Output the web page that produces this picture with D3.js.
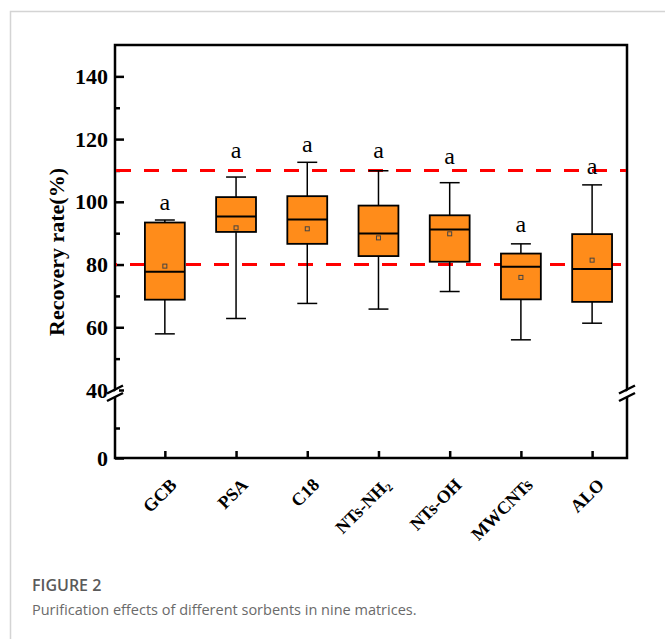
<!DOCTYPE html>
<html>
<head>
<meta charset="utf-8">
<script src="https://cdn.jsdelivr.net/npm/d3@7"></script>
<style>
  body { margin: 0; background: #fff; }
  svg { display: block; }
</style>
</head>
<body>
<div id="chart-holder"></div>
<script>
// box plot values (recovery rate, %)
var categories  = ["GCB", "PSA", "C18", "NTs-NH2", "NTs-OH", "MWCNTs", "ALO"];
var whiskerLow  = [57.9, 62.8, 67.6, 65.8, 71.4, 56.0, 61.3];
var q1          = [68.8, 90.4, 86.6, 82.7, 80.9, 68.9, 68.1];
var median      = [77.7, 95.3, 94.4, 89.9, 91.2, 79.3, 78.6];
var q3          = [93.4, 101.5, 101.8, 98.8, 95.7, 83.5, 89.7];
var whiskerHigh = [94.2, 107.9, 112.6, 109.9, 106.1, 86.6, 105.4];
var means       = [79.5, 91.7, 91.4, 88.5, 89.8, 75.9, 81.4];
var letters     = ["a", "a", "a", "a", "a", "a", "a"];
var letterAt    = [99.2, 115.9, 117.9, 115.9, 114.1, 92.3, 110.7];
var limits      = [80, 110];
var upperTicks  = [40, 60, 80, 100, 120, 140];
var upperMinor  = [50, 70, 90, 110, 130];
var lowerTicks  = [0];
var lowerMinor  = [20];

var W = 665, H = 639;
var serif = "'Times New Roman', 'Liberation Serif', serif";

var svg = d3.select("#chart-holder")
  .append("svg")
    .attr("width", W)
    .attr("height", H);

// page frame lines
svg.append("path")
  .attr("d", "M10.5," + H + "V11.5H" + W)
  .attr("fill", "none")
  .attr("stroke", "#d4d4d4")
  .attr("stroke-width", 1.5);

var plot = {left: 115, right: 627, top: 45, bottom: 458};

// x scale: categories sit at 1..7
var x = d3.scaleLinear()
  .domain([0.3, 7.49])
  .range([plot.left, plot.right]);
var unit = x(1) - x(0);

// broken y axis: two linear pieces
var yUp = d3.scaleLinear().domain([40, 150]).range([390, plot.top]);
var yLo = d3.scaleLinear().domain([0, 40]).range([plot.bottom, 398]);

var data = categories.map(function(c, i) {
  return {name: c, i: i + 1, lo: whiskerLow[i], q1: q1[i], med: median[i],
          q3: q3[i], hi: whiskerHigh[i], mean: means[i], letter: letters[i], ly: letterAt[i]};
});

// y axes (ticks point inward)
function styleAxis(g) {
  g.select(".domain").remove();
  g.selectAll("line").attr("stroke", "#000").attr("stroke-width", 2.5);
  g.selectAll("text")
    .attr("font-family", serif)
    .attr("font-weight", "bold")
    .attr("font-size", 22)
    .attr("fill", "#000");
}
svg.append("g")
  .attr("transform", "translate(" + plot.left + ",0)")
  .call(d3.axisLeft(yUp).tickValues(upperTicks).tickSize(-9).tickPadding(7))
  .call(styleAxis);
svg.append("g")
  .attr("transform", "translate(" + plot.left + ",0)")
  .call(d3.axisLeft(yUp).tickValues(upperMinor).tickSize(-5).tickFormat(""))
  .call(styleAxis);
svg.append("g")
  .attr("transform", "translate(" + plot.left + ",0)")
  .call(d3.axisLeft(yLo).tickValues(lowerTicks).tickSize(-9).tickPadding(7))
  .call(styleAxis);
svg.append("g")
  .attr("transform", "translate(" + plot.left + ",0)")
  .call(d3.axisLeft(yLo).tickValues(lowerMinor).tickSize(-5).tickFormat(""))
  .call(styleAxis);

// x axis ticks (inward) and rotated labels
var xAxis = svg.append("g")
  .attr("transform", "translate(0," + plot.bottom + ")")
  .call(d3.axisBottom(x).tickValues(d3.range(1, 8)).tickSize(-7).tickFormat(""));
xAxis.select(".domain").remove();
xAxis.selectAll("line").attr("stroke", "#000").attr("stroke-width", 2.5);

var xl = svg.append("g").selectAll("text")
  .data(data)
  .enter()
  .append("text")
    .attr("transform", function(d) { return "translate(" + (x(d.i) + 13) + ",486)rotate(-45)"; })
    .attr("text-anchor", "end")
    .attr("font-family", serif)
    .attr("font-weight", "bold")
    .attr("font-size", 18)
    .attr("fill", "#000");
xl.each(function(d) {
  var t = d3.select(this);
  if (d.name === "NTs-NH2") {
    t.append("tspan").text("NTs-NH");
    t.append("tspan").attr("font-size", 11).attr("dy", 3).text("2");
  } else {
    t.text(d.name);
  }
});

// frame with axis lines
svg.append("path")
  .attr("d", "M" + plot.left + "," + plot.top + "V" + plot.bottom + "H" + plot.right + "V" + plot.top + "Z")
  .attr("fill", "none")
  .attr("stroke", "#000")
  .attr("stroke-width", 2.5);

// break marks on both vertical axes
[plot.left, plot.right].forEach(function(bx) {
  var g = svg.append("g");
  g.append("polygon")
    .attr("points", [[bx - 4, 394], [bx + 4, 388], [bx + 4, 394], [bx - 4, 400]].join(" "))
    .attr("fill", "#fff");
  [389.5, 397].forEach(function(by) {
    g.append("line")
      .attr("x1", bx - 8).attr("y1", by + 4)
      .attr("x2", bx + 8).attr("y2", by - 4)
      .attr("stroke", "#000")
      .attr("stroke-width", 2.5);
  });
});

// red limit lines
svg.append("g").selectAll("line")
  .data(limits)
  .enter()
  .append("line")
    .attr("x1", plot.left + 1)
    .attr("x2", plot.right - 1)
    .attr("y1", function(d) { return yUp(d); })
    .attr("y2", function(d) { return yUp(d); })
    .attr("stroke", "#ff0000")
    .attr("stroke-width", 3)
    .attr("stroke-dasharray", "15,13")
    .attr("stroke-dashoffset", function(d, i) { return i === 0 ? -14 : 0; });

// boxes
var bw = unit * 0.56, cw = unit * 0.28;
var boxes = svg.append("g").selectAll("g")
  .data(data)
  .enter()
  .append("g");

boxes.append("line")
  .attr("x1", function(d) { return x(d.i); })
  .attr("x2", function(d) { return x(d.i); })
  .attr("y1", function(d) { return yUp(d.lo); })
  .attr("y2", function(d) { return yUp(d.q1); })
  .attr("stroke", "#000").attr("stroke-width", 1.5);
boxes.append("line")
  .attr("x1", function(d) { return x(d.i); })
  .attr("x2", function(d) { return x(d.i); })
  .attr("y1", function(d) { return yUp(d.q3); })
  .attr("y2", function(d) { return yUp(d.hi); })
  .attr("stroke", "#000").attr("stroke-width", 1.5);
["lo", "hi"].forEach(function(k) {
  boxes.append("line")
    .attr("x1", function(d) { return x(d.i) - cw / 2; })
    .attr("x2", function(d) { return x(d.i) + cw / 2; })
    .attr("y1", function(d) { return yUp(d[k]); })
    .attr("y2", function(d) { return yUp(d[k]); })
    .attr("stroke", "#000").attr("stroke-width", 1.5);
});
boxes.append("rect")
  .attr("x", function(d) { return x(d.i) - bw / 2; })
  .attr("y", function(d) { return yUp(d.q3); })
  .attr("width", bw)
  .attr("height", function(d) { return yUp(d.q1) - yUp(d.q3); })
  .attr("fill", "#ff8c1a")
  .attr("stroke", "#000")
  .attr("stroke-width", 1.8);
boxes.append("line")
  .attr("x1", function(d) { return x(d.i) - bw / 2; })
  .attr("x2", function(d) { return x(d.i) + bw / 2; })
  .attr("y1", function(d) { return yUp(d.med); })
  .attr("y2", function(d) { return yUp(d.med); })
  .attr("stroke", "#000").attr("stroke-width", 2);
boxes.append("rect")
  .attr("x", function(d) { return x(d.i) - 2; })
  .attr("y", function(d) { return yUp(d.mean) - 2; })
  .attr("width", 4)
  .attr("height", 4)
  .attr("fill", "none")
  .attr("stroke", "#444")
  .attr("stroke-width", 1);
boxes.append("text")
  .attr("x", function(d) { return x(d.i); })
  .attr("y", function(d) { return yUp(d.ly) + 6; })
  .attr("text-anchor", "middle")
  .attr("font-family", serif)
  .attr("font-size", 24)
  .attr("fill", "#000")
  .text(function(d) { return d.letter; });

// y title
svg.append("text")
  .attr("transform", "translate(64,252)rotate(-90)")
  .attr("text-anchor", "middle")
  .attr("font-family", serif)
  .attr("font-weight", "bold")
  .attr("font-size", 22)
  .attr("fill", "#000")
  .text("Recovery rate(%)");

// caption
svg.append("text")
  .attr("x", 32).attr("y", 591)
  .attr("font-family", "'Open Sans', 'Noto Sans', sans-serif")
  .attr("font-weight", 600)
  .attr("font-size", 16)
  .attr("fill", "#5a5a5a")
  .text("FIGURE 2");
svg.append("text")
  .attr("x", 32).attr("y", 615)
  .attr("font-family", "'Open Sans', 'Noto Sans', sans-serif")
  .attr("font-size", 14.5)
  .attr("fill", "#6a6a6a")
  .text("Purification effects of different sorbents in nine matrices.");
</script>
</body>
</html>
